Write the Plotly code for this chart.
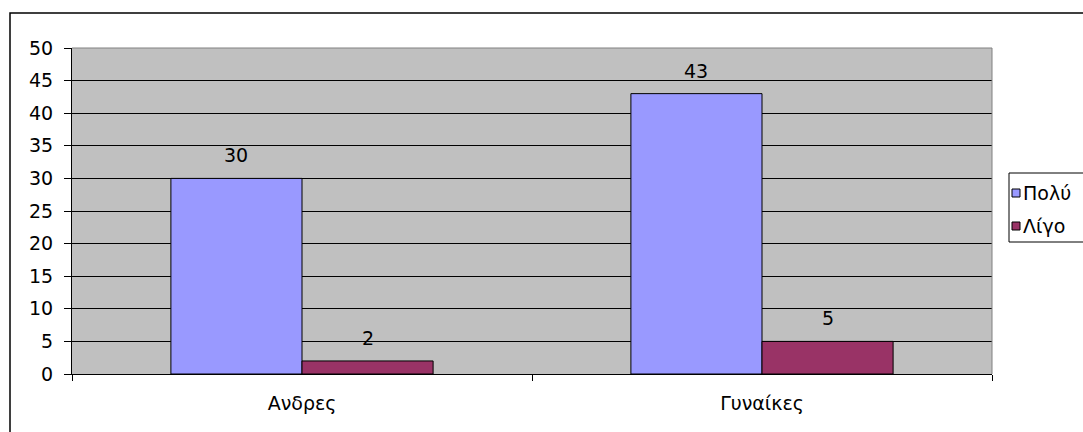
import plotly.graph_objects as go

# Data
categories = ["Ανδρες", "Γυναίκες"]
series_names = ["Πολύ", "Λίγο"]
values_poly = [30, 43]
values_ligo = [2, 5]
series_values = [values_poly, values_ligo]
series_colors = ["#9999FF", "#993366"]
y_ticks = [0, 5, 10, 15, 20, 25, 30, 35, 40, 45, 50]

FONT = "DejaVu Sans, Arial, sans-serif"
FS = 19
W, H = 1083, 432
ML, MR, MT, MB = 72, 91, 48, 58
PW = W - ML - MR
PH = H - MT - MB

fig = go.Figure()
for name, vals, col in zip(series_names, series_values, series_colors):
    fig.add_trace(go.Bar(
        x=categories, y=vals, name=name,
        marker=dict(color=col, line=dict(color="black", width=1)),
        showlegend=False,
    ))

bargap = 0.43
bar_px = (1 - bargap) / 2 * (PW / len(categories))

annotations = []
for i, vals in enumerate(series_values):
    shift = (i - 0.5) * bar_px
    for cat, v in zip(categories, vals):
        annotations.append(dict(
            x=cat, y=v, xref="x", yref="y", text=str(v), showarrow=False,
            xshift=shift, yshift=10, yanchor="bottom",
            font=dict(family=FONT, size=FS, color="black"),
        ))

shapes = []
# outer chart frame
shapes.append(dict(type="rect", xref="paper", yref="paper",
                   x0=(10 - ML) / PW, x1=1.3, y0=-0.4, y1=(PH + MT - 13) / PH,
                   line=dict(color="black", width=1.5), layer="below"))
# plot area border (top and right)
shapes.append(dict(type="line", xref="paper", yref="paper", x0=0, x1=1, y0=1, y1=1,
                   line=dict(color="#808080", width=1)))
shapes.append(dict(type="line", xref="paper", yref="paper", x0=1, x1=1, y0=0, y1=1,
                   line=dict(color="#808080", width=1)))

# legend box
leg_left = (1009 - ML) / PW
leg_top = (MT + PH - 173) / PH
leg_bot = (MT + PH - 242) / PH
shapes.append(dict(type="rect", xref="paper", yref="paper",
                   x0=leg_left, x1=1.3, y0=leg_bot, y1=leg_top,
                   line=dict(color="black", width=1), fillcolor="white"))
item_y = [193, 226]
for name, col, py in zip(series_names, series_colors, item_y):
    yc = (MT + PH - py) / PH
    sx0 = (1012 - ML) / PW
    sx1 = (1020 - ML) / PW
    hh = 4 / PH
    shapes.append(dict(type="rect", xref="paper", yref="paper",
                       x0=sx0, x1=sx1, y0=yc - hh, y1=yc + hh,
                       fillcolor=col, line=dict(color="black", width=1)))
    annotations.append(dict(
        x=(1021 - ML) / PW, y=yc, xref="paper", yref="paper", text=name,
        showarrow=False, xanchor="left", yanchor="middle",
        font=dict(family=FONT, size=FS, color="black"),
    ))

fig.update_layout(
    width=W, height=H,
    margin=dict(l=ML, r=MR, t=MT, b=MB, pad=0),
    paper_bgcolor="white",
    plot_bgcolor="#C0C0C0",
    barmode="group", bargap=bargap, bargroupgap=0,
    font=dict(family=FONT, size=FS, color="black"),
    annotations=annotations,
    shapes=shapes,
    showlegend=False,
)
fig.update_xaxes(
    showline=True, linecolor="black", linewidth=1,
    ticks="outside", tickson="boundaries", ticklen=6, tickcolor="black",
    ticklabelstandoff=12, showgrid=False, zeroline=False,
    tickfont=dict(family=FONT, size=FS, color="black"),
)
fig.update_yaxes(
    range=[0, 50], tickvals=y_ticks, showline=True, linecolor="black", linewidth=1,
    ticks="outside", ticklen=7, tickcolor="black", ticklabelstandoff=7,
    showgrid=True, gridcolor="black", gridwidth=1, zeroline=False,
    tickfont=dict(family=FONT, size=FS, color="black"),
)

fig.write_html("out.html")
